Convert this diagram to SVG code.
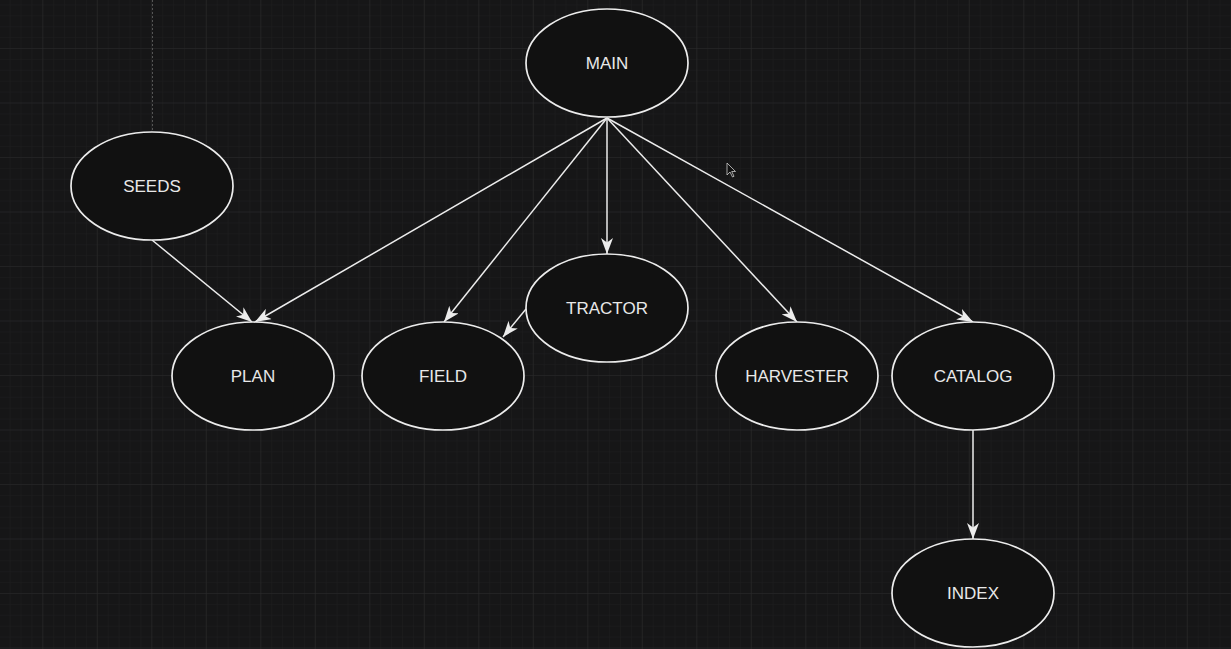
<svg xmlns="http://www.w3.org/2000/svg" width="1231" height="649" viewBox="0 0 1231 649">
<style>
.node ellipse{fill:#111111;stroke:#ececec;stroke-width:1.7}
.node text{font-family:"Liberation Sans",Arial,sans-serif;font-size:17px;fill:#e8e8e8;text-anchor:middle;dominant-baseline:central}
.edge{stroke:#ececec;stroke-width:1.5;fill:none;marker-end:url(#arr)}
</style>
<defs>
<pattern id="minor" width="10.9" height="10.9" patternUnits="userSpaceOnUse" x="-11.2" y="-5.5">
<path d="M10.9 0V10.9M0 10.9H10.9" stroke="#1e1e1f" stroke-width="1" fill="none"/>
</pattern>
<pattern id="major" width="54.5" height="54.5" patternUnits="userSpaceOnUse" x="-11.2" y="-5.5">
<path d="M54.5 0V54.5M0 54.5H54.5" stroke="#2a2a2b" stroke-width="1" fill="none"/>
</pattern>
<marker id="arr" viewBox="0 0 16 12" refX="16" refY="6" markerWidth="16" markerHeight="12" markerUnits="userSpaceOnUse" orient="auto">
<path d="M0 0L16 6L0 12L4.5 6Z" fill="#ececec"/>
</marker>
</defs>
<rect width="1231" height="649" fill="#161617"/>
<rect width="1231" height="649" fill="url(#minor)"/>
<rect width="1231" height="649" fill="url(#major)"/>
<line x1="152.5" y1="0" x2="152.5" y2="130" stroke="#555" stroke-width="1" stroke-dasharray="2 2"/>
<g id="connectors">
<path class="edge" d="M607 118L255 322"/>
<path class="edge" d="M607 118L444 322"/>
<path class="edge" d="M607 118L607 254"/>
<path class="edge" d="M607 118L797 322"/>
<path class="edge" d="M607 118L973 322"/>
<path class="edge" d="M152 240L252 322"/>
<path class="edge" d="M526 309L503 337"/>
<path class="edge" d="M973 430L973 539"/>
</g>
<g id="MAIN" class="node"><ellipse cx="607" cy="63" rx="81" ry="54"/><text x="607" y="63">MAIN</text></g>
<g id="SEEDS" class="node"><ellipse cx="152" cy="186" rx="81" ry="54"/><text x="152" y="186">SEEDS</text></g>
<g id="PLAN" class="node"><ellipse cx="253" cy="376" rx="81" ry="54"/><text x="253" y="376">PLAN</text></g>
<g id="FIELD" class="node"><ellipse cx="443" cy="376" rx="81" ry="54"/><text x="443" y="376">FIELD</text></g>
<g id="TRACTOR" class="node"><ellipse cx="607" cy="308" rx="81" ry="54"/><text x="607" y="308">TRACTOR</text></g>
<g id="HARVESTER" class="node"><ellipse cx="797" cy="376" rx="81" ry="54"/><text x="797" y="376">HARVESTER</text></g>
<g id="CATALOG" class="node"><ellipse cx="973" cy="376" rx="81" ry="54"/><text x="973" y="376">CATALOG</text></g>
<g id="INDEX" class="node"><ellipse cx="973" cy="593" rx="81" ry="54"/><text x="973" y="593">INDEX</text></g>
<path d="M727 163L727 175L730 172L732.5 177L734 176.3L731.7 171.5L735.5 171.5Z" fill="#111" stroke="#ccc" stroke-width="0.8"/>
</svg>
